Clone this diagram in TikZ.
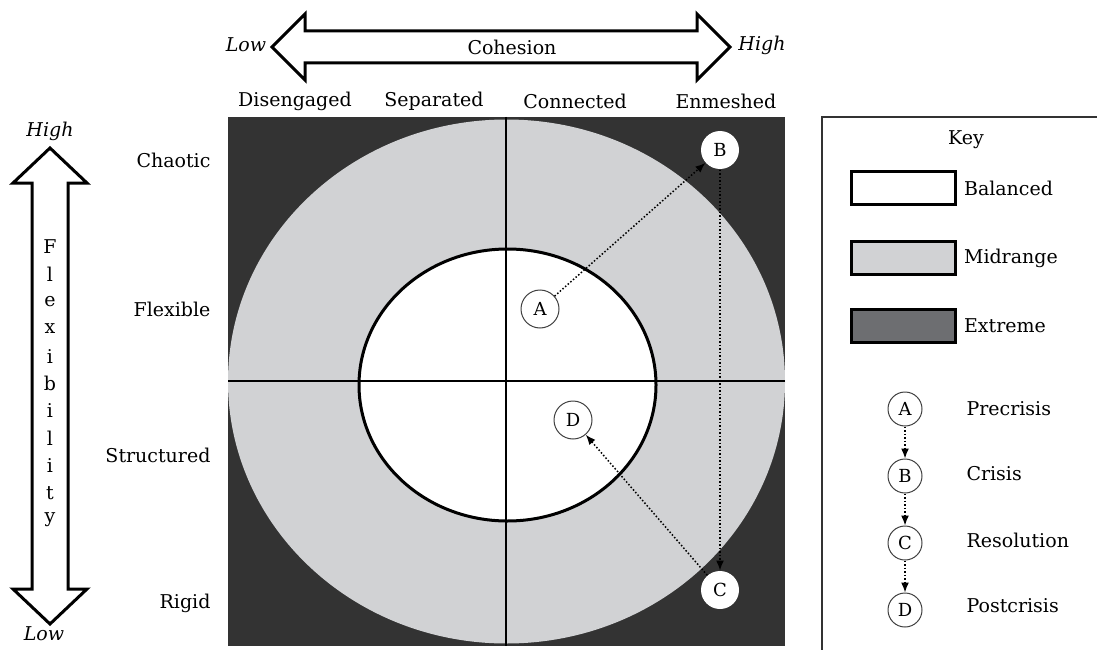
\documentclass[tikz,border=0pt]{standalone}
\usepackage{fontspec}
\setmainfont{DejaVu Serif}
\usetikzlibrary{arrows.meta, positioning}
\definecolor{extremegray}{HTML}{333333}
\definecolor{midgray}{HTML}{D1D2D4}
\definecolor{keygray}{HTML}{6D6E71}
\tikzset{
  x=1pt, y=-1pt,
  every node/.style={font=\fontsize{19}{23}\selectfont},
  stage/.style={circle, draw=black!75, line width=1pt, fill=white, inner sep=0pt,
    minimum size=38pt, font=\fontsize{18}{21}\selectfont},
  keystage/.style={stage, minimum size=34pt},
  move/.style={dotted, line width=1.5pt, -{Latex[length=10pt, width=8pt]}},
  swatch/.style={draw, line width=3pt, minimum width=104pt, minimum height=33pt},
  bigarrow/.style={draw, line width=3pt, fill=white, line join=miter},
}

\begin{document}
\begin{tikzpicture}
		\useasboundingbox (0,0) rectangle (1097,650);

		% model
		\fill[extremegray] (228,117) rectangle (785,646);
		\fill[midgray] (506.5,381.5) ellipse [x radius=278.5, y radius=262];
		\draw[line width=3pt, fill=white] (507.5,385) ellipse [x radius=148.5, y radius=136];
		\draw[line width=2.2pt] (506,117) -- (506,646)
		(228,381) -- (785,381);

		% cohesion axis
		\draw[bigarrow] (272,47) -- (305,14) -- (305,31) -- (697,31) -- (697,14) -- (730,47)
		-- (697,80) -- (697,63) -- (305,63) -- (305,80) -- cycle;
		\node (coh) at (512,47) {Cohesion};
		\node (cohlow) at (246,45) {\textit{Low}};
		\node (cohhigh) at (762,45) {\textit{High}};
		\node (dis) at (295,101) {Disengaged};
		\node (sep) at (434,101) {Separated};
		\node (con) at (575,101) {Connected};
		\node (enm) at (726,101) {Enmeshed};

		% flexibility axis
		\draw[bigarrow] (50,148) -- (87,183) -- (68,183) -- (68,589) -- (87,589) -- (50,624)
		-- (13,589) -- (32,589) -- (32,183) -- (13,183) -- cycle;
		\foreach \ch [count=\i from 0] in {F,l,e,x,i,b,i,l,i,t,y}
			\node (flex\i) at (50,247+27.3*\i) {\ch};
		\node (flexhigh) at (50,131) {\textit{High}};
		\node (flexlow) at (44,634) {\textit{Low}};
		\node[anchor=east] (cha) at (214,160) {Chaotic};
		\node[anchor=east] (fle) at (214,309) {Flexible};
		\node[anchor=east] (str) at (214,455) {Structured};
		\node[anchor=east] (rig) at (214,603) {Rigid};

		% stages
		\node[stage] (A) at (540,309) {A};
		\node[stage, draw=none] (B) at (720,150) {B};
		\node[stage, draw=none] (C) at (720,590) {C};
		\node[stage] (D) at (573,420) {D};
		\draw[move] (A) -- (B);
		\draw[move] (B) -- (C);
		\draw[move] (C) -- (D);

		% key
		\draw[line width=2.5pt, black!80] (822,650) -- (822,117) -- (1097,117);
		\node (key) at (966,140) {Key};
		\node[swatch, fill=white] (bal) at (903,188) {};
		\node[swatch, fill=midgray] (mid) at (903,258) {};
		\node[swatch, fill=keygray] (ext) at (903,326) {};
		\node[right=4pt of bal] (ballab) {Balanced};
		\node[right=4pt of mid] (midlab) {Midrange};
		\node[right=4pt of ext] (extlab) {Extreme};

		\node[keystage] (ka) at (905,409) {A};
		\node[keystage, below=32pt of ka] (kb) {B};
		\node[keystage, below=32pt of kb] (kc) {C};
		\node[keystage, below=32pt of kc] (kd) {D};
		\draw[move] (ka) -- (kb);
		\draw[move] (kb) -- (kc);
		\draw[move] (kc) -- (kd);
		\node[anchor=west] (pre) at (963,409) {Precrisis};
		\node[anchor=west] (cri) at (963,474) {Crisis};
		\node[anchor=west] (res) at (963,540) {Resolution};
		\node[anchor=west] (post) at (963,606) {Postcrisis};
	\end{tikzpicture}
\end{document}
